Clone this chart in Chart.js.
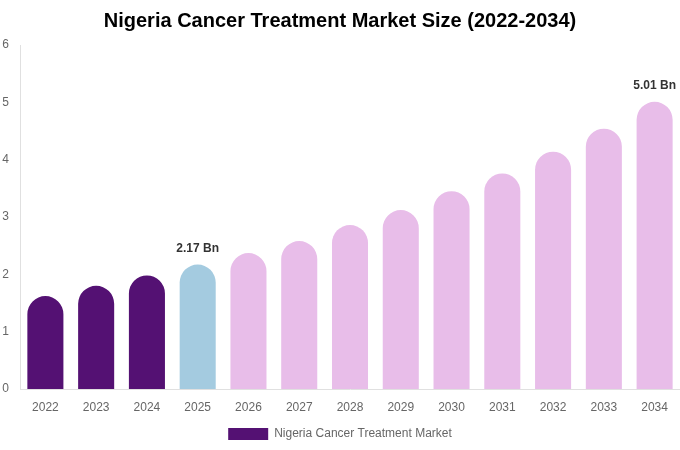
<!DOCTYPE html>
<html>
<head>
<meta charset="utf-8">
<script src="https://cdn.jsdelivr.net/npm/chart.js@4.4.1/dist/chart.umd.min.js"></script>
<style>
html,body{margin:0;padding:0;background:#fff;}
#wrap{width:680px;height:450px;position:relative;}
</style>
</head>
<body>
<div id="wrap"><canvas id="c"></canvas></div>
<script>
const categories = ["2022","2023","2024","2025","2026","2027","2028","2029","2030","2031","2032","2033","2034"];
const marketSize = [1.62, 1.80, 1.98, 2.17, 2.37, 2.58, 2.86, 3.12, 3.45, 3.76, 4.14, 4.54, 5.01];
const barLabels = ["", "", "", "2.17 Bn", "", "", "", "", "", "", "", "", "5.01 Bn"];
const yTicks = [0, 1, 2, 3, 4, 5, 6];

const colors = categories.map((c, i) => i < 3 ? "#541173" : (i === 3 ? "#a4cbe0" : "#e8bde9"));

const labelPlugin = {
  id: "barLabels",
  afterDatasetsDraw(chart) {
    const ctx = chart.ctx;
    const meta = chart.getDatasetMeta(0);
    ctx.save();
    ctx.font = "bold 12px 'Liberation Sans', Arial, sans-serif";
    ctx.fillStyle = "#333333";
    ctx.textAlign = "center";
    ctx.textBaseline = "bottom";
    meta.data.forEach((bar, i) => {
      if (barLabels[i]) ctx.fillText(barLabels[i], bar.x, bar.y - 10);
    });
    ctx.restore();
  }
};

new Chart(document.getElementById("c"), {
  type: "bar",
  data: {
    labels: categories,
    datasets: [{
      label: "Nigeria Cancer Treatment Market",
      data: marketSize,
      backgroundColor: colors,
      borderRadius: { topLeft: 20, topRight: 20 },
      borderSkipped: "bottom",
      categoryPercentage: 0.71,
      barPercentage: 1.0
    }]
  },
  options: {
    responsive: true,
    maintainAspectRatio: false,
    animation: false,
    layout: { padding: { left: 0, right: 0, top: 0, bottom: 0 } },
    plugins: {
      title: {
        display: true,
        text: "Nigeria Cancer Treatment Market Size (2022-2034)",
        color: "#000",
        font: { size: 20, weight: "bold", family: "'Liberation Sans', Arial, sans-serif" },
        padding: { top: 9, bottom: 12 }
      },
      legend: {
        position: "bottom",
        labels: {
          color: "#666",
          font: { size: 12, family: "'Liberation Sans', Arial, sans-serif" },
          boxWidth: 40,
          boxHeight: 12,
          generateLabels(chart) {
            return [{
              text: "Nigeria Cancer Treatment Market",
              fillStyle: "#541173",
              strokeStyle: "#541173",
              lineWidth: 0,
              fontColor: "#666",
              datasetIndex: 0
            }];
          }
        }
      },
      tooltip: { enabled: false }
    },
    scales: {
      x: {
        grid: { display: false, drawTicks: false },
        border: { display: true, color: "#e0e0e0" },
        ticks: { color: "#666", font: { size: 12, family: "'Liberation Sans', Arial, sans-serif" }, padding: 11 },
        afterFit(axis) { axis.height = 29; }
      },
      y: {
        min: 0,
        max: 6,
        grid: { display: false, drawTicks: false },
        border: { display: true, color: "#e0e0e0" },
        afterBuildTicks(axis) { axis.ticks = yTicks.map(v => ({ value: v })); },
        ticks: { color: "#666", font: { size: 12, family: "'Liberation Sans', Arial, sans-serif" }, padding: 11 },
        afterFit(axis) { axis.width = 20; }
      }
    }
  },
  plugins: [labelPlugin]
});
</script>
</body>
</html>
